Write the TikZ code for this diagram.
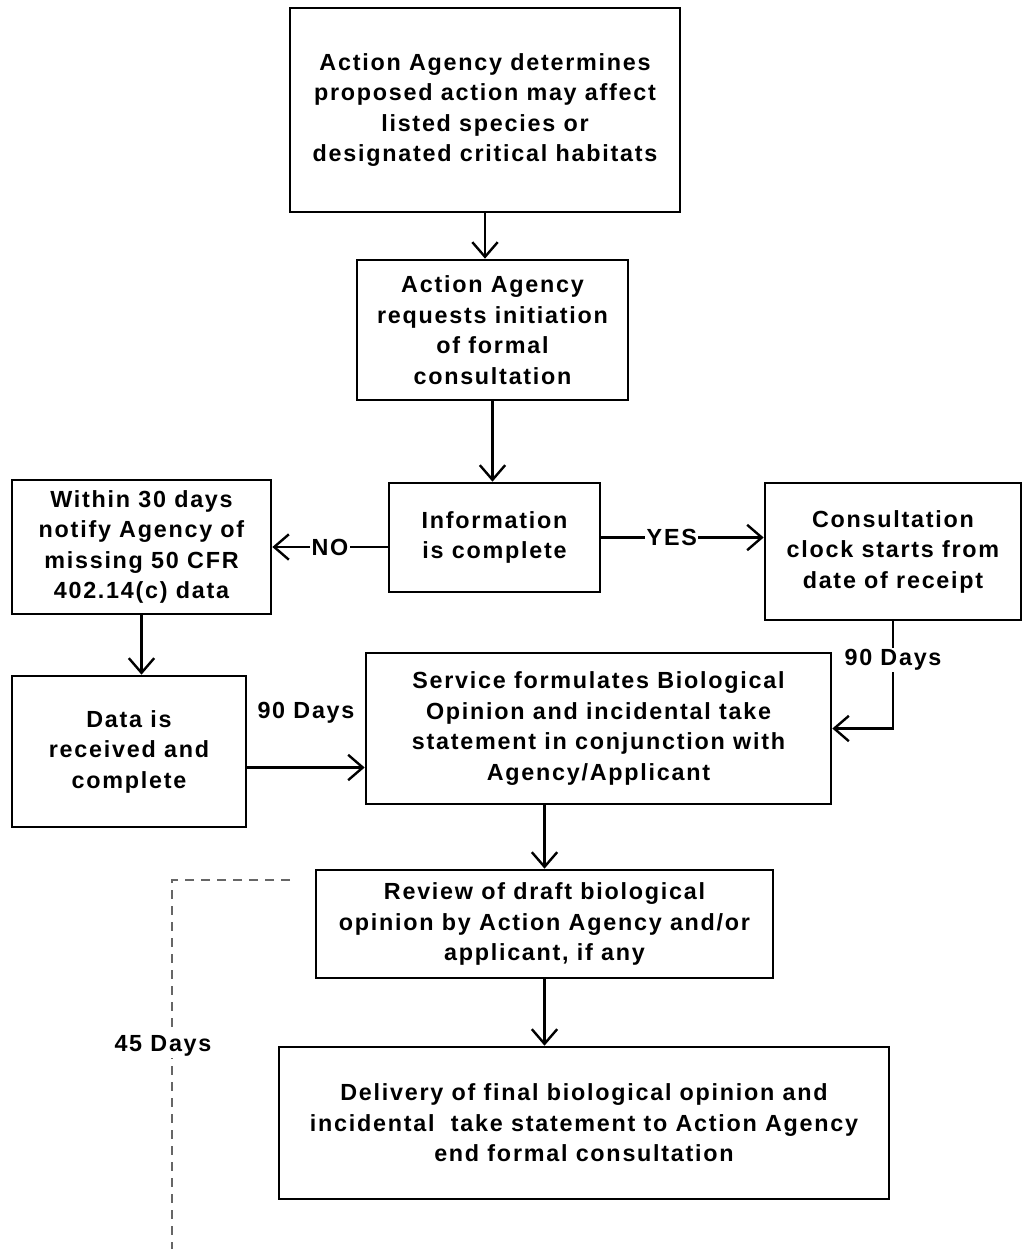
\documentclass[tikz,border=0pt]{standalone}
\usepackage{fontspec}
\setmainfont{Liberation Sans}[LetterSpace=7.5,BoldFont={Liberation Sans Bold}]
\usetikzlibrary{arrows.meta}

\begin{document}
\begin{tikzpicture}[x=0.75pt,y=-0.75pt,
    bnode/.style 2 args={draw,line width=2pt,align=center,inner sep=0pt,
        minimum width=#1*0.75pt,minimum height=#2*0.75pt,
        font=\fontsize{17.5}{22.9}\selectfont\bfseries},
    lbl/.style={fill=white,inner sep=1pt,font=\fontsize{17.5}{22.9}\selectfont\bfseries},
    >={Straight Barb[length=11pt,width=19pt,line width=1.8pt]},
    every path/.style={line width=1.9pt}]
    \useasboundingbox (0,0) rectangle (1023,1249);

    \node[bnode={390}{204}] (top) at (485,110)
        {Action Agency determines\\proposed action may affect\\listed species or\\designated critical habitats};
    \node[bnode={271}{140}] (req) at (492.5,330)
        {Action Agency\\requests initiation\\of formal\\consultation};
    \node[bnode={211}{109}] (info) at (494.5,537.5)
        {Information\\is complete};
    \node[bnode={259}{134}] (notify) at (141.5,547)
        {Within 30 days\\notify Agency of\\missing 50 CFR\\402.14(c) data};
    \node[bnode={256}{137}] (clock) at (893,551.5)
        {Consultation\\clock starts from\\date of receipt};
    \node[bnode={234}{151}] (data) at (129,751.5)
        {Data is\\received and\\complete};
    \node[bnode={465}{151}] (svc) at (598.5,728.5)
        {Service formulates Biological\\Opinion and incidental take\\statement in conjunction with\\Agency/Applicant};
    \node[bnode={457}{108}] (review) at (544.5,924)
        {Review of draft biological\\opinion by Action Agency and/or\\applicant, if any};
    \node[bnode={610}{152}] (final) at (584,1123)
        {Delivery of final biological opinion and\\incidental\ \ take statement to Action Agency\\end formal consultation};

    \draw[->] (top.south) -- (top.south |- req.north);
    \draw[->] (req.south) -- (req.south |- info.north);
    \draw[->] (info.west |- notify.east) -- node[lbl] {NO} (notify.east);
    \draw[->] (info.east) -- node[lbl,xshift=-8pt] {YES} (info.east -| clock.west);
    \draw[->] (notify.south) -- (notify.south |- data.north);
    \draw[->] ([yshift=-12pt]data.east) -- node[lbl,yshift=41pt] {90 Days}
        ([yshift=-12pt]data.east -| svc.west);
    \draw[->] (clock.south) |- node[lbl,pos=0.18] {90 Days} (svc.east);
    \draw[->] (svc.south -| review.north) -- (review.north);
    \draw[->] (review.south) -- (review.south |- final.north);

    % 45 day bracket
    \coordinate (d1) at (290,880);
    \coordinate (d2) at (172,880);
    \coordinate (d3) at (172,1249);
    \draw[dashed,line width=1.3pt,gray!80!black,dash pattern=on 7pt off 5pt] (d1) -- (d2) -- (d3);
    \node[lbl] (days45) at (163,1046) {45 Days};
\end{tikzpicture}
\end{document}
